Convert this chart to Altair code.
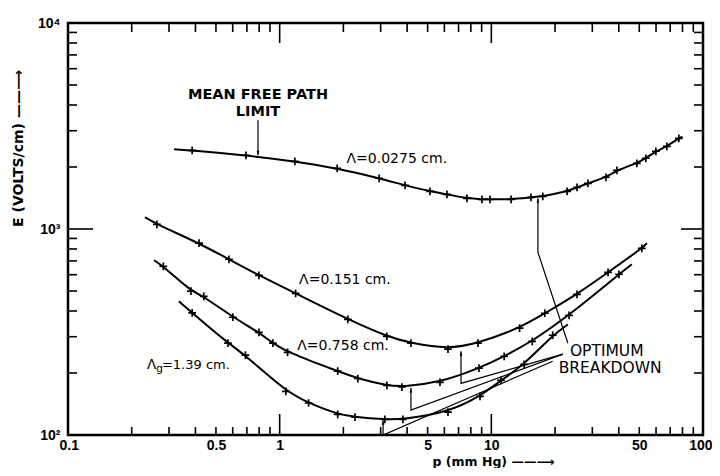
import altair as alt
import pandas as pd

# ---------------- data ----------------
# Lambda = 0.0275 cm
c1_x = [0.386, 0.693, 1.18, 1.87, 2.95, 3.91, 5.13, 6.17, 7.67, 9.03, 9.85, 12.4,
        15.4, 17.5, 22.8, 25.4, 28.6, 34.8, 39.2, 48.7, 53.7, 59.9, 67.5, 76.9]
c1_y = [2410, 2280, 2130, 1970, 1763, 1630, 1524, 1474, 1409, 1393, 1393, 1393,
        1425, 1440, 1524, 1592, 1667, 1783, 1928, 2084, 2205, 2384, 2520, 2756]
c1_end_x = [0.317, 80.0]
c1_end_y = [2438, 2810]

# Lambda = 0.151 cm
c2_x = [0.263, 0.416, 0.576, 0.798, 1.19, 2.10, 3.21, 4.17, 6.24, 8.65, 13.6,
        17.9, 25.4, 35.6, 51.4]
c2_y = [1054, 853, 713, 596, 487, 364, 301, 279, 261, 279, 330, 390, 482, 616, 806]
c2_end_x = [0.231, 54.3]
c2_end_y = [1140, 853]

# Lambda = 0.758 cm
c3_x = [0.282, 0.381, 0.438, 0.601, 0.798, 0.929, 1.09, 1.88, 2.34, 3.21, 3.78,
        5.72, 8.74, 11.5, 15.6, 23.3, 40.1]
c3_y = [659, 499, 471, 373, 315, 279, 252, 204, 188, 174, 171, 180, 211, 241,
        285, 381, 603]
c3_end_x = [0.255, 46.1]
c3_end_y = [705, 674]

# Lambda_g = 1.39 cm
c4_x = [0.386, 0.570, 0.689, 1.07, 1.37, 1.88, 2.27, 3.14, 3.82, 6.24, 8.84,
        11.1, 14.3, 19.5]
c4_y = [392, 279, 244, 163, 143, 126, 122, 119, 119, 129, 154, 184, 220, 305]
c4_end_x = [0.334, 23.0]
c4_end_y = [446, 344]

# pointer lines (data coordinates); last point of each is the arrow tip
ptr_id = ["mfp", "mfp", "o1", "o1", "o1", "o2", "o2", "o2",
          "o3", "o3", "o3", "o4", "o4", "o4"]
ptr_x = [0.790, 0.790, 23.0, 16.6, 16.6, 21.8, 7.19, 7.19,
         21.8, 4.17, 4.17, 19.5, 3.08, 3.08]
ptr_y = [3370, 2280, 279, 771, 1409, 247, 178, 255,
         247, 132, 169, 228, 100, 118]

# text annotations
lab_text = ["Λ=0.0275 cm.", "Λ=0.151 cm.", "Λ=0.758 cm."]
lab_x = [2.07, 1.235, 1.21]
lab_y = [2179, 564, 270]

mfp_text = ["MEAN FREE PATH", "LIMIT"]
mfp_x = [0.790, 0.790]
mfp_y = [4457, 3686]

opt_text = ["OPTIMUM", "BREAKDOWN"]
opt_x = [23.5, 20.8]
opt_y = [255, 211]

x_minor = [0.2, 0.3, 0.4, 0.5, 0.6, 0.7, 0.8, 0.9, 2, 3, 4, 5, 6, 7, 8, 9,
           20, 30, 40, 50, 60, 70, 80, 90]
x_major = [1, 10]
y_minor = [200, 300, 400, 500, 600, 700, 800, 900,
           2000, 3000, 4000, 5000, 6000, 7000, 8000, 9000]
y_major = [1000]
x_labels = [0.1, 0.5, 1, 5, 10, 50, 100]
y_labels = [100, 1000, 10000]

# ---------------- build tables ----------------
names = ["c1", "c2", "c3", "c4"]
mx = [c1_x, c2_x, c3_x, c4_x]
my = [c1_y, c2_y, c3_y, c4_y]
ex = [c1_end_x, c2_end_x, c3_end_x, c4_end_x]
ey = [c1_end_y, c2_end_y, c3_end_y, c4_end_y]

pts_rows, line_rows = [], []
for n, xs, ys, exs, eys in zip(names, mx, my, ex, ey):
    for a, b in zip(xs, ys):
        pts_rows.append({"c": n, "x": a, "y": b})
    allx = [exs[0]] + xs + [exs[1]]
    ally = [eys[0]] + ys + [eys[1]]
    for a, b in zip(allx, ally):
        line_rows.append({"c": n, "x": a, "y": b})
pts = pd.DataFrame(pts_rows)
lines = pd.DataFrame(line_rows)

ptr = pd.DataFrame({"id": ptr_id, "x": ptr_x, "y": ptr_y})
ptr["i"] = range(len(ptr))
tips = ptr.groupby("id").tail(1).copy()
tips["dir"] = ["down" if i == "mfp" else "up" for i in tips["id"]]

W, H = 635, 412
FONT = "DejaVu Sans"
LFONT = "Liberation Sans"

xs_ = alt.Scale(type="log", domain=[0.1, 100], nice=False)
ys_ = alt.Scale(type="log", domain=[100, 10000], nice=False)

x_axis = alt.Axis(values=x_labels, format="~g", ticks=False, domain=False,
                  grid=False, labelFontSize=14, labelFont=LFONT,
                  labelFontWeight="bold",
                  labelColor="black", labelPadding=3, labelFlush=True,
                  labelFlushOffset=9,
                  title="p (mm Hg) ——⟶", titleFont=FONT, titleFontSize=12.5,
                  titleFontWeight="bold", titleColor="black",
                  titleAnchor="start", titleAlign="left",
                  titleBaseline="middle", titleX=364, titleY=26)
y_axis = alt.Axis(values=y_labels, ticks=False, domain=False, grid=False,
                  labelExpr="datum.value == 100 ? '10²' : datum.value == 1000 ? '10³' : '10⁴'",
                  labelFontSize=14, labelFont=LFONT, labelFontWeight="bold",
                  labelColor="black",
                  labelPadding=8, labelFlush=False,
                  title="E (VOLTS/cm) ——⟶", titleFont=FONT, titleFontSize=14,
                  titleFontWeight="bold", titleColor="black",
                  titleAlign="center", titleBaseline="middle",
                  titleX=-50, titleY=125, titleAngle=270)

X = lambda: alt.X("x:Q", scale=xs_, axis=x_axis)
Y = lambda: alt.Y("y:Q", scale=ys_, axis=y_axis)

curves = alt.Chart(lines).mark_line(
    color="black", strokeWidth=2, interpolate="basis"
).encode(x=X(), y=Y(), detail="c:N")

plus = "M-1,0L1,0M0,-1L0,1"
markers = alt.Chart(pts).mark_point(
    shape=plus, filled=False, color="black", strokeWidth=1.7, size=60, opacity=1
).encode(x=X(), y=Y())

ptr_lines = alt.Chart(ptr).mark_line(color="black", strokeWidth=1.2).encode(
    x=X(), y=Y(), detail="id:N", order="i:Q")

tips_up = alt.Chart(tips[tips["dir"] == "up"]).mark_point(
    shape="M0,0L-0.6,2L0.6,2Z", filled=True, color="black", size=20, opacity=1
).encode(x=X(), y=Y())
tips_down = alt.Chart(tips[tips["dir"] == "down"]).mark_point(
    shape="M0,0L-0.6,-2L0.6,-2Z", filled=True, color="black", size=20, opacity=1
).encode(x=X(), y=Y())

labels = alt.Chart(pd.DataFrame({"t": lab_text, "x": lab_x, "y": lab_y})).mark_text(
    align="left", baseline="middle", font=FONT, fontSize=14, color="black"
).encode(x=X(), y=Y(), text="t:N")

lg = pd.DataFrame({"t": ["Λ"], "x": [0.236], "y": [218]})
lg_a = alt.Chart(lg).mark_text(align="left", baseline="middle", font=FONT,
                               fontSize=13.5, color="black").encode(x=X(), y=Y(), text="t:N")
lg_b = alt.Chart(lg).mark_text(align="left", baseline="middle", font=FONT,
                               fontSize=11, color="black", dx=9, dy=4).encode(
    x=X(), y=Y(), text=alt.value("g"))
lg_c = alt.Chart(lg).mark_text(align="left", baseline="middle", font=FONT,
                               fontSize=13, color="black", dx=15).encode(
    x=X(), y=Y(), text=alt.value("=1.39 cm."))

mfp = alt.Chart(pd.DataFrame({"t": mfp_text, "x": mfp_x, "y": mfp_y})).mark_text(
    align="center", baseline="middle", font=FONT, fontSize=14.5, fontWeight="bold",
    color="black"
).encode(x=X(), y=Y(), text="t:N")

opt = alt.Chart(pd.DataFrame({"t": opt_text, "x": opt_x, "y": opt_y})).mark_text(
    align="left", baseline="middle", font=FONT, fontSize=15.5, color="black"
).encode(x=X(), y=Y(), text="t:N")

# inward ticks on all four sides
xmin_df = pd.DataFrame({"x": x_minor})
xmaj_df = pd.DataFrame({"x": x_major})
ymin_df = pd.DataFrame({"y": y_minor})
ymaj_df = pd.DataFrame({"y": y_major})
tk = dict(color="black", strokeWidth=1.6)
ticks = [
    alt.Chart(xmin_df).mark_rule(**tk).encode(x=X(), y=alt.value(H), y2=alt.value(H - 8)),
    alt.Chart(xmin_df).mark_rule(**tk).encode(x=X(), y=alt.value(0), y2=alt.value(9)),
    alt.Chart(xmaj_df).mark_rule(**tk).encode(x=X(), y=alt.value(H), y2=alt.value(H - 21)),
    alt.Chart(xmaj_df).mark_rule(**tk).encode(x=X(), y=alt.value(0), y2=alt.value(20)),
    alt.Chart(ymin_df).mark_rule(**tk).encode(y=Y(), x=alt.value(0), x2=alt.value(9)),
    alt.Chart(ymin_df).mark_rule(**tk).encode(y=Y(), x=alt.value(W), x2=alt.value(W - 9)),
    alt.Chart(ymaj_df).mark_rule(**tk).encode(y=Y(), x=alt.value(0), x2=alt.value(25)),
    alt.Chart(ymaj_df).mark_rule(**tk).encode(y=Y(), x=alt.value(W), x2=alt.value(W - 22)),
]

chart = alt.layer(
    *ticks, curves, markers, ptr_lines, tips_up, tips_down,
    labels, lg_a, lg_b, lg_c, mfp, opt
).properties(
    width=W, height=H,
    autosize=alt.AutoSizeParams(type="none"),
    padding={"left": 60, "top": 15, "right": 9, "bottom": 33},
    background="white",
).configure_view(stroke="black", strokeWidth=2.5)

chart.save("out.html", embed_options={"renderer": "svg", "actions": False})
